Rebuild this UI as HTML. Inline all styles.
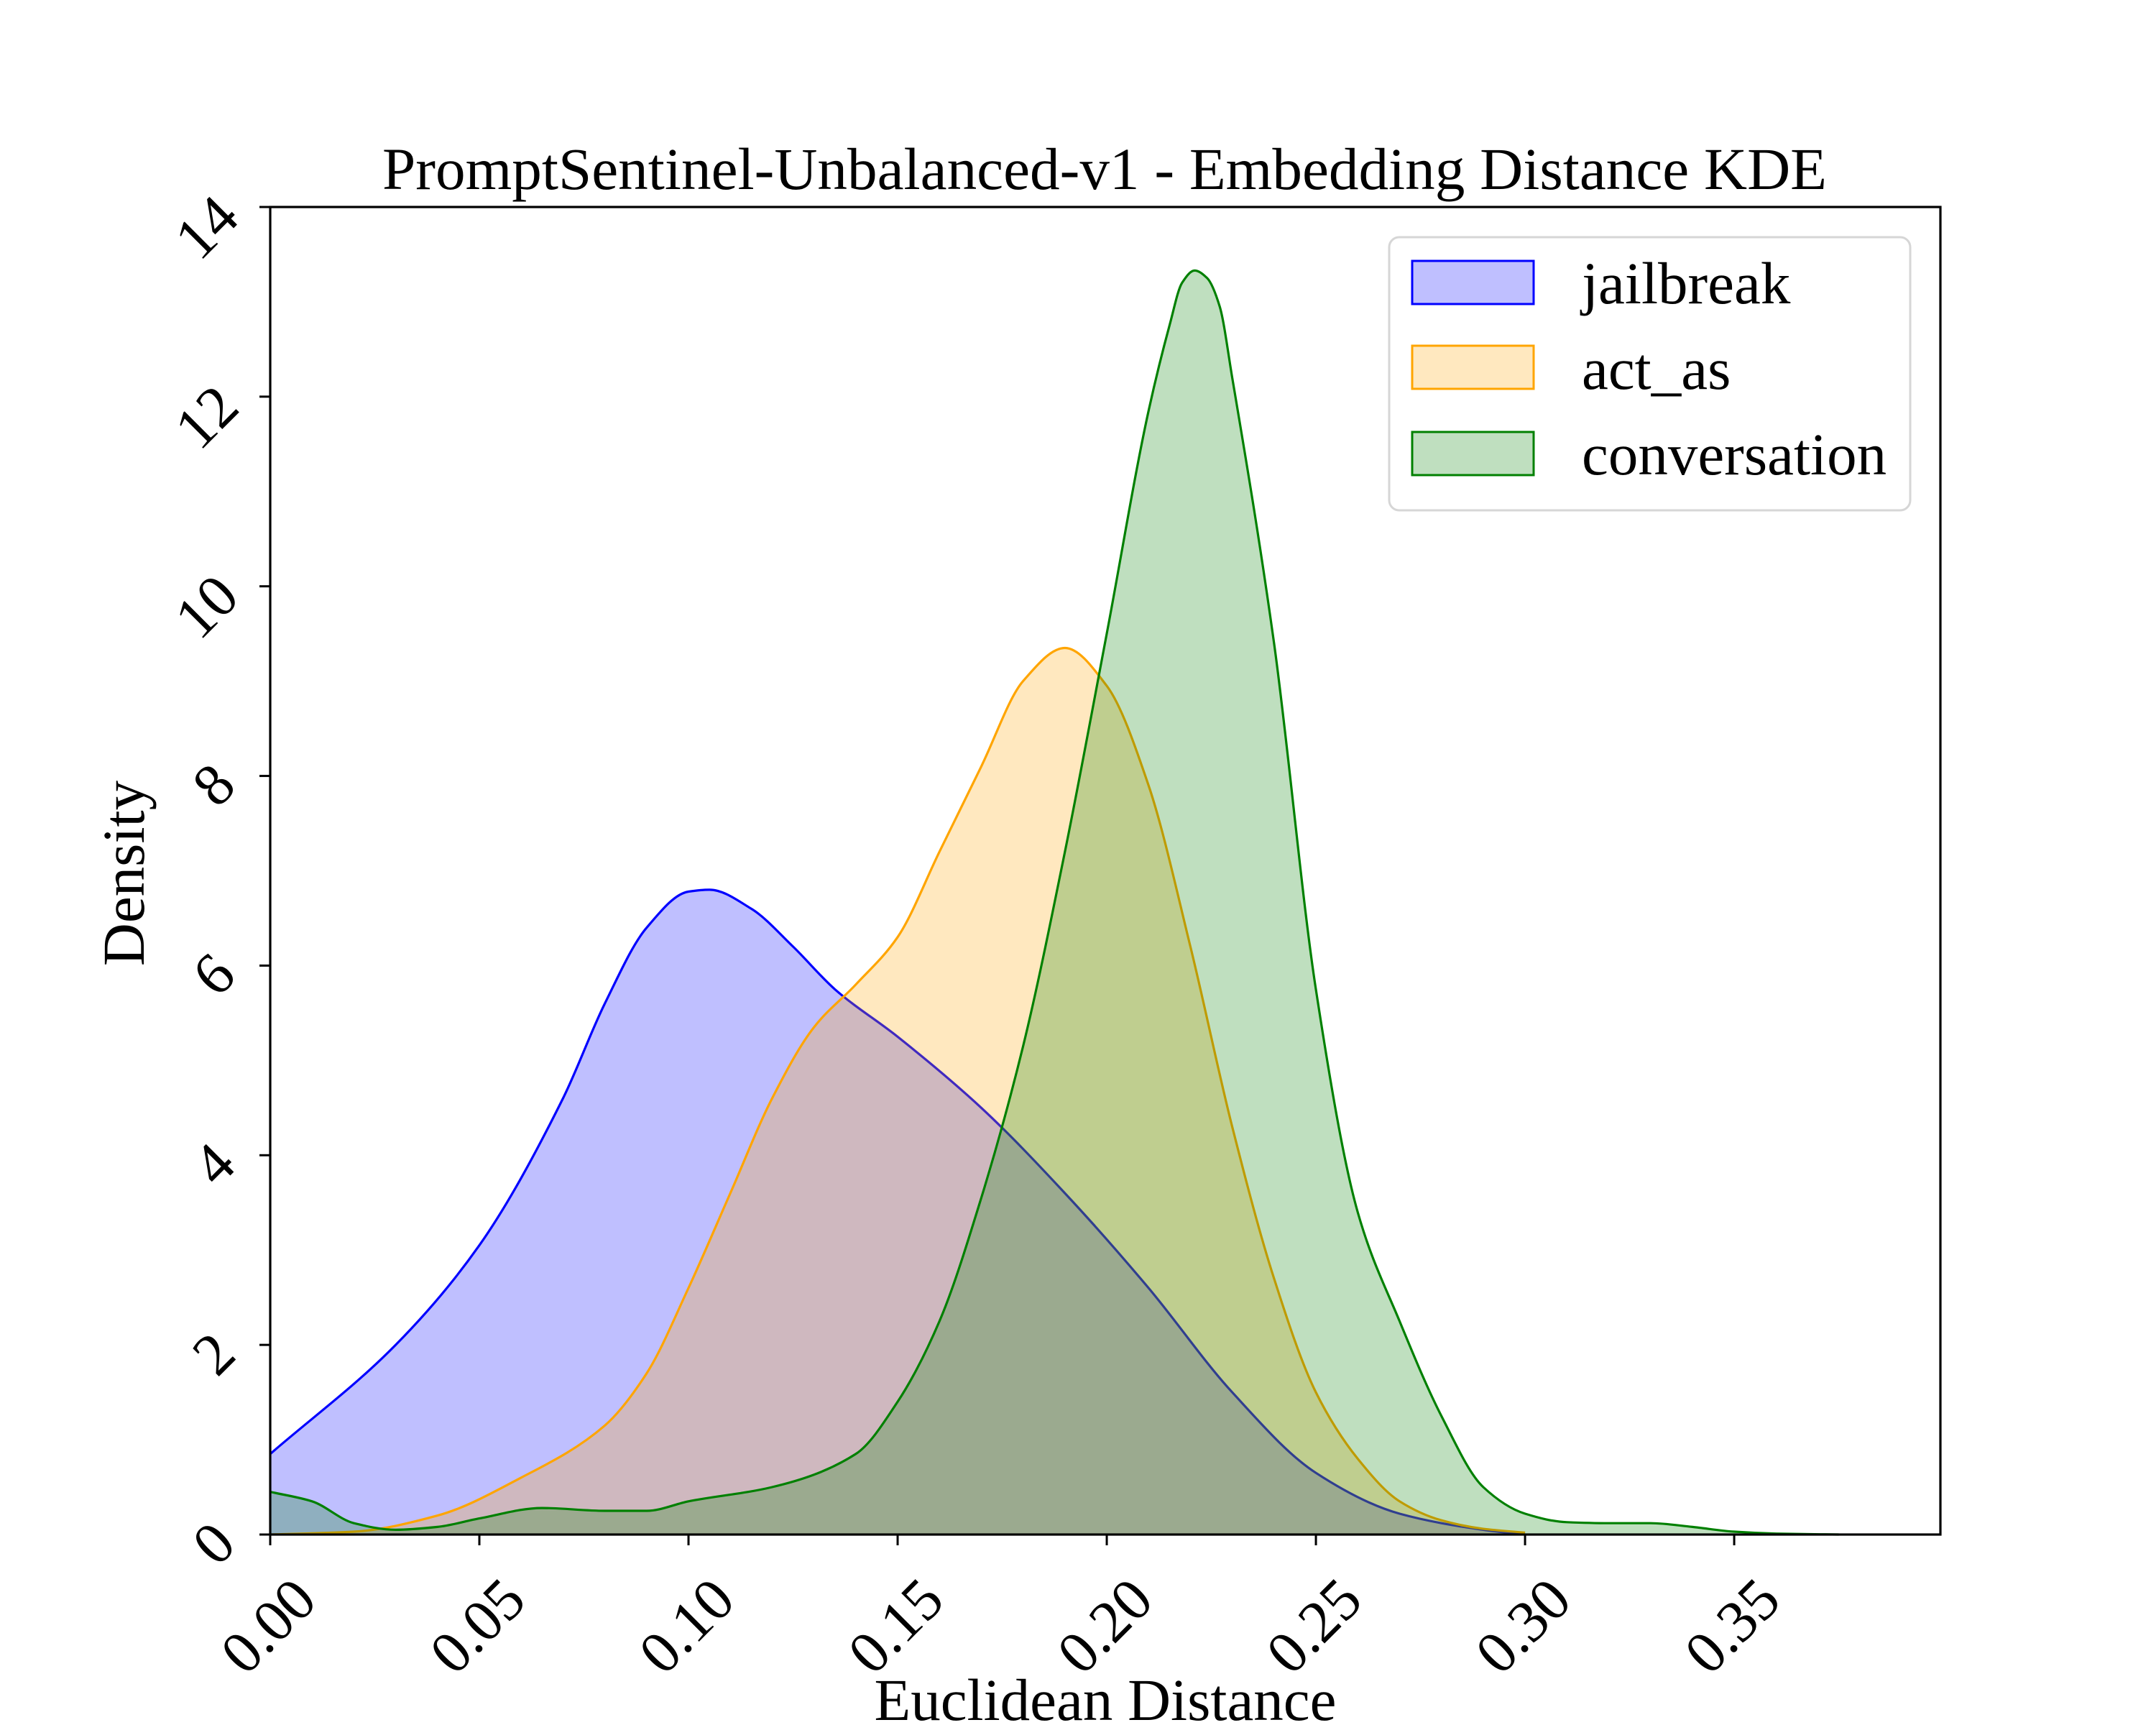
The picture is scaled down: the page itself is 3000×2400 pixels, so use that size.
<!DOCTYPE html>
<html><head><meta charset="utf-8"><style>
html,body{margin:0;padding:0;background:#fff;}
svg{display:block;font-family:"Liberation Serif","DejaVu Serif",serif;}
</style></head><body>
<svg id="chart" width="3000" height="2400" viewBox="0 0 3000 2400">
<rect x="0" y="0" width="3000" height="2400" fill="#fff"/>
<g id="series"></g>
<g id="axes"></g>
<text x="1537" y="263" font-size="83" text-anchor="middle" textLength="2010" lengthAdjust="spacingAndGlyphs">PromptSentinel-Unbalanced-v1 - Embedding Distance KDE</text>
<text x="1538" y="2393" font-size="83" text-anchor="middle">Euclidean Distance</text>
<text x="0" y="0" font-size="83" text-anchor="middle" transform="translate(200,1215) rotate(-90)">Density</text>
<g id="legend">
<rect x="1933" y="330" width="725" height="380" rx="14" fill="#fff" fill-opacity="0.8" stroke="#d6d6d6" stroke-width="3"/>
<rect x="1965" y="363" width="169" height="60" fill="rgba(0,0,255,0.25)" stroke="#0000ff" stroke-width="3"/>
<text x="2201" y="422" font-size="83">jailbreak</text>
<rect x="1965" y="481" width="169" height="60" fill="rgba(255,165,0,0.25)" stroke="#ffa500" stroke-width="3"/>
<text x="2201" y="541" font-size="83">act_as</text>
<rect x="1965" y="601" width="169" height="60" fill="rgba(0,128,0,0.25)" stroke="#008000" stroke-width="3"/>
<text x="2201" y="660" font-size="83">conversation</text>
</g>
</svg>
<script>
const jbX = [0,0.03,0.05,0.07,0.08,0.09,0.10,0.105,0.115,0.125,0.135,0.15,0.17,0.19,0.21,0.23,0.25,0.27,0.29,0.30];
const jbY = [0.85,2.0,3.05,4.6,5.6,6.4,6.78,6.8,6.6,6.2,5.75,5.25,4.5,3.6,2.6,1.5,0.65,0.22,0.05,0.0];
const actX = [0,0.02,0.04,0.06,0.08,0.09,0.10,0.11,0.12,0.13,0.14,0.15,0.16,0.17,0.18,0.19,0.20,0.21,0.22,0.23,0.24,0.25,0.26,0.27,0.28,0.29,0.30];
const actY = [0,0.03,0.2,0.6,1.15,1.7,2.6,3.6,4.6,5.35,5.8,6.3,7.2,8.1,9.0,9.35,8.95,7.9,6.2,4.3,2.7,1.5,0.8,0.35,0.15,0.06,0.02];
const convX = [0,0.01,0.02,0.03,0.04,0.05,0.065,0.08,0.09,0.10,0.12,0.14,0.15,0.16,0.17,0.18,0.19,0.20,0.21,0.215,0.218,0.221,0.224,0.227,0.23,0.24,0.25,0.26,0.27,0.28,0.29,0.30,0.31,0.32,0.33,0.34,0.35,0.36,0.375];
const convY = [0.45,0.35,0.12,0.05,0.08,0.17,0.28,0.25,0.25,0.35,0.5,0.85,1.4,2.25,3.55,5.15,7.2,9.5,11.85,12.75,13.2,13.33,13.25,12.95,12.2,9.4,5.75,3.4,2.25,1.25,0.5,0.22,0.13,0.12,0.12,0.08,0.03,0.01,0];
const xTicks = [0,0.05,0.10,0.15,0.20,0.25,0.30,0.35];
const xTickLabels = ["0.00","0.05","0.10","0.15","0.20","0.25","0.30","0.35"];
const yTicks = [0,2,4,6,8,10,12,14];
const yTickLabels = ["0","2","4","6","8","10","12","14"];

const L=376,R=2700,T=288,B=2135,XMAX=0.3993,YMAX=14;
const sx=v=>L+v/XMAX*(R-L);
const sy=v=>B-v/YMAX*(B-T);
const NS="http://www.w3.org/2000/svg";
function mk(tag,attrs,parent){const e=document.createElementNS(NS,tag);for(const k in attrs)e.setAttribute(k,attrs[k]);parent.appendChild(e);return e;}
function smooth(xs,ys){
  const n=xs.length,px=xs.map(sx),py=ys.map(sy);
  const d=[],m=new Array(n);
  for(let i=0;i<n-1;i++)d.push((py[i+1]-py[i])/(px[i+1]-px[i]));
  m[0]=d[0];m[n-1]=d[n-2];
  for(let i=1;i<n-1;i++){
    if(d[i-1]*d[i]<=0)m[i]=0;
    else{const h0=px[i]-px[i-1],h1=px[i+1]-px[i],w1=2*h1+h0,w2=h1+2*h0;m[i]=(w1+w2)/(w1/d[i-1]+w2/d[i]);}
  }
  let s="M"+px[0].toFixed(1)+","+py[0].toFixed(1);
  for(let i=0;i<n-1;i++){
    const h=(px[i+1]-px[i])/3;
    s+=" C"+(px[i]+h).toFixed(1)+","+(py[i]+m[i]*h).toFixed(1)+" "+(px[i+1]-h).toFixed(1)+","+(py[i+1]-m[i+1]*h).toFixed(1)+" "+px[i+1].toFixed(1)+","+py[i+1].toFixed(1);
  }
  return s;
}
const sg=document.getElementById('series');
const series=[[jbX,jbY,"rgba(0,0,255,0.25)","#0000ff","jailbreak"],[actX,actY,"rgba(255,165,0,0.25)","#ffa500","act-as"],[convX,convY,"rgba(0,128,0,0.25)","#008000","conversation"]];
series.forEach(s=>{
  const d=smooth(s[0],s[1]);
  const xe=sx(s[0][s[0].length-1]),x0=sx(s[0][0]);
  const a=mk('path',{d:d+" L"+xe+","+B+" L"+x0+","+B+" Z",fill:s[2],stroke:"none"},sg);
  
  
  const l=mk('path',{d:d,fill:"none",stroke:s[3],"stroke-width":3.2},sg);
  
  
});
const ag=document.getElementById('axes');
const fr=mk('rect',{x:L,y:T,width:R-L,height:B-T,fill:"none",stroke:"#000","stroke-width":3.2},ag);


xTicks.forEach((v,i)=>{
  const x=sx(v);
  const t=mk('line',{x1:x,y1:B,x2:x,y2:B+15,stroke:"#000","stroke-width":3},ag);
  
  
  const tx=mk('text',{x:0,y:0,"font-size":83,"text-anchor":"middle","dominant-baseline":"central",transform:"translate("+(x-3)+",2262) rotate(-45)"},ag);
  tx.textContent=xTickLabels[i];
  
  
});
yTicks.forEach((v,i)=>{
  const y=sy(v);
  const t=mk('line',{x1:L-15,y1:y,x2:L,y2:y,stroke:"#000","stroke-width":3},ag);
  
  
  const n=yTickLabels[i].length-1;
  const tx=mk('text',{x:0,y:0,"font-size":83,"text-anchor":"middle","dominant-baseline":"central",transform:"translate("+(297-n*10)+","+(y+12+n*16)+") rotate(-45)"},ag);
  tx.textContent=yTickLabels[i];
  
  
});
</script>
</body></html>
